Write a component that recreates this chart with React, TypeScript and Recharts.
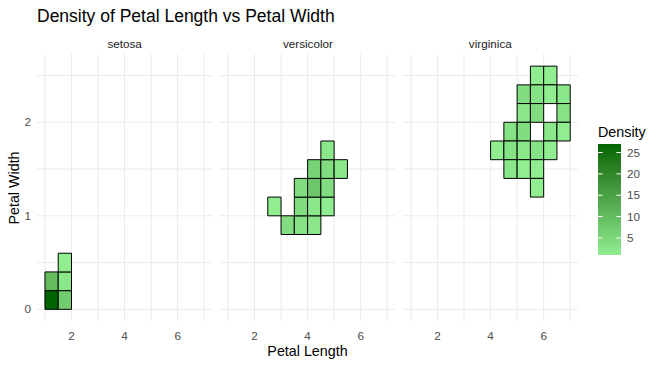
import { ComposedChart, XAxis, YAxis, CartesianGrid, ReferenceArea, ReferenceLine, Scatter } from 'recharts';

const SPECIES = ['setosa', 'versicolor', 'virginica'];
const BIN_W = 0.5;
const BIN_H = 0.2;

const SETOSA_X = [1.0, 1.0, 1.5, 1.5, 1.5];
const SETOSA_Y = [0.0, 0.2, 0.0, 0.2, 0.4];
const SETOSA_N = [27, 10, 7, 2, 1];

const VERSICOLOR_X = [2.5, 3.0, 3.5, 4.0, 3.5, 4.0, 4.5, 3.5, 4.0, 4.5, 4.0, 4.5, 5.0, 4.5];
const VERSICOLOR_Y = [1.0, 0.8, 0.8, 0.8, 1.0, 1.0, 1.0, 1.2, 1.2, 1.2, 1.4, 1.4, 1.4, 1.6];
const VERSICOLOR_N = [1, 4, 3, 2, 4, 2, 1, 4, 8, 4, 6, 4, 2, 2];

const VIRGINICA_X = [5.5, 6.0, 5.0, 5.5, 6.0, 6.5, 5.0, 5.5, 6.5, 4.5, 5.0, 6.0, 6.5, 4.0, 4.5, 5.0, 5.5, 6.0, 4.5, 5.0, 5.5, 5.5];
const VIRGINICA_Y = [2.4, 2.4, 2.2, 2.2, 2.2, 2.2, 2.0, 2.0, 2.0, 1.8, 1.8, 1.8, 1.8, 1.6, 1.6, 1.6, 1.6, 1.6, 1.4, 1.4, 1.4, 1.2];
const VIRGINICA_N = [1, 1, 4, 3, 1, 2, 2, 4, 3, 3, 4, 2, 1, 1, 3, 2, 3, 1, 2, 1, 1, 1];

const X_TICKS = [1, 2, 3, 4, 5, 6, 7];
const Y_TICKS = [0, 0.5, 1, 1.5, 2, 2.5];
const LEGEND_TICKS = [5, 10, 15, 20, 25];
const N_MIN = 1;
const N_MAX = 27;

const FONT = '"Liberation Sans", Arial, sans-serif';
const LOW = '#90EE90';
const HIGH = '#006400';

// lab interpolation, like ggplot's scale_fill_gradient
function toLab(hex: string) {
  const c = [1, 3, 5].map((i) => parseInt(hex.slice(i, i + 2), 16) / 255)
    .map((v) => (v <= 0.04045 ? v / 12.92 : Math.pow((v + 0.055) / 1.055, 2.4)));
  const X = (0.4124 * c[0] + 0.3576 * c[1] + 0.1805 * c[2]) / 0.95047;
  const Y = 0.2126 * c[0] + 0.7152 * c[1] + 0.0722 * c[2];
  const Z = (0.0193 * c[0] + 0.1192 * c[1] + 0.9505 * c[2]) / 1.08883;
  const f = (t: number) => (t > 0.008856 ? Math.cbrt(t) : 7.787 * t + 16 / 116);
  return [116 * f(Y) - 16, 500 * (f(X) - f(Y)), 200 * (f(Y) - f(Z))];
}

function fromLab(L: number, a: number, b: number) {
  const fy = (L + 16) / 116;
  const fx = fy + a / 500;
  const fz = fy - b / 200;
  const g = (t: number) => (t ** 3 > 0.008856 ? t ** 3 : (t - 16 / 116) / 7.787);
  const X = g(fx) * 0.95047, Y = g(fy), Z = g(fz) * 1.08883;
  const rgb = [
    3.2406 * X - 1.5372 * Y - 0.4986 * Z,
    -0.9689 * X + 1.8758 * Y + 0.0415 * Z,
    0.0557 * X - 0.204 * Y + 1.057 * Z,
  ].map((v) => (v <= 0.0031308 ? 12.92 * v : 1.055 * Math.pow(v, 1 / 2.4) - 0.055))
    .map((v) => Math.round(Math.min(1, Math.max(0, v)) * 255));
  return `rgb(${rgb[0]},${rgb[1]},${rgb[2]})`;
}

const LAB_LO = toLab(LOW);
const LAB_HI = toLab(HIGH);
function fillFor(n: number) {
  const t = (n - N_MIN) / (N_MAX - N_MIN);
  return fromLab(
    LAB_LO[0] + (LAB_HI[0] - LAB_LO[0]) * t,
    LAB_LO[1] + (LAB_HI[1] - LAB_LO[1]) * t,
    LAB_LO[2] + (LAB_HI[2] - LAB_LO[2]) * t,
  );
}

const PANELS = [
  { xs: SETOSA_X, ys: SETOSA_Y, ns: SETOSA_N },
  { xs: VERSICOLOR_X, ys: VERSICOLOR_Y, ns: VERSICOLOR_N },
  { xs: VIRGINICA_X, ys: VIRGINICA_Y, ns: VIRGINICA_N },
];

const PANEL_LEFT = [37, 220.3, 402.7];
const PANEL_W = 175.2;
const PANEL_H = 267.5;
const PANEL_TOP = 54;
const Y_AXIS_W = 37;

function Panel({ idx }: { idx: number }) {
  const p = PANELS[idx];
  const first = idx === 0;
  const centers = p.xs.map((x, i) => ({ x: x + BIN_W / 2, y: p.ys[i] + BIN_H / 2 }));
  const width = PANEL_W + (first ? Y_AXIS_W : 0);
  return (
    <div style={{ position: 'absolute', left: PANEL_LEFT[idx] - (first ? Y_AXIS_W : 0), top: PANEL_TOP }}>
      <ComposedChart width={width} height={PANEL_H + 26} margin={{ top: 0, right: 0, bottom: 0, left: 0 }}>
        <CartesianGrid stroke="#EBEBEB" strokeWidth={1} syncWithTicks />
        <XAxis type="number" dataKey="x" domain={[0.7, 7.3]} ticks={X_TICKS} allowDataOverflow
          tickFormatter={(v) => (v % 2 === 0 ? String(v) : '')}
          axisLine={false} tickLine={false} height={26} tickMargin={4}
          tick={{ fill: '#4D4D4D', fontSize: 11.7, fontFamily: FONT }} />
        <YAxis type="number" dataKey="y" domain={[-0.13, 2.73]} ticks={Y_TICKS} allowDataOverflow
          hide={!first} width={Y_AXIS_W}
          tickFormatter={(v) => (Number.isInteger(v) ? String(v) : '')}
          axisLine={false} tickLine={false} tickMargin={0}
          tick={{ fill: '#4D4D4D', fontSize: 11.7, fontFamily: FONT }} />
        <Scatter data={centers} fill="none" shape={() => <g />} isAnimationActive={false} />
        {p.xs.map((x, i) => (
          <ReferenceArea key={i} x1={x} x2={x + BIN_W} y1={p.ys[i]} y2={p.ys[i] + BIN_H}
            fill={fillFor(p.ns[i])} fillOpacity={1} stroke="#000" strokeWidth={1} strokeOpacity={1} />
        ))}
      </ComposedChart>
    </div>
  );
}

const BAR_ENDS = [{ x: 0.5, y: N_MIN }, { x: 0.5, y: N_MAX }];

function ColorBar() {
  const stops = Array.from({ length: 11 }, (_, i) => i / 10);
  return (
    <div style={{ position: 'absolute', left: 598, top: 144 }}>
      <ComposedChart width={53} height={111} margin={{ top: 0, right: 0, bottom: 0, left: 0 }}>
        <defs>
          <linearGradient id="densGrad" x1="0" y1="1" x2="0" y2="0">
            {stops.map((t) => (
              <stop key={t} offset={`${t * 100}%`} stopColor={fillFor(N_MIN + t * (N_MAX - N_MIN))} />
            ))}
          </linearGradient>
        </defs>
        <XAxis type="number" dataKey="x" domain={[0, 1]} hide allowDataOverflow />
        <YAxis type="number" dataKey="y" orientation="right" domain={[N_MIN, N_MAX]} ticks={LEGEND_TICKS}
          width={30} axisLine={false} tickLine={false} tickMargin={0} allowDataOverflow
          tick={{ fill: '#4D4D4D', fontSize: 11.7, fontFamily: FONT, textAnchor: 'start' }} />
        <Scatter data={BAR_ENDS} fill="none" shape={() => <g />} isAnimationActive={false} />
        <ReferenceArea x1={0} x2={1} y1={N_MIN} y2={N_MAX} fill="url(#densGrad)" fillOpacity={1} stroke="none" />
        {LEGEND_TICKS.map((v) => (
          <ReferenceLine key={`l${v}`} segment={[{ x: 0, y: v }, { x: 0.2, y: v }]} stroke="#fff" strokeWidth={1} />
        ))}
        {LEGEND_TICKS.map((v) => (
          <ReferenceLine key={`r${v}`} segment={[{ x: 0.8, y: v }, { x: 1, y: v }]} stroke="#fff" strokeWidth={1} />
        ))}
      </ComposedChart>
    </div>
  );
}

export default function App() {
  return (
    <div style={{ position: 'absolute', left: 0, top: 0, width: 660, height: 365, background: '#fff', fontFamily: FONT }}>
      <svg width={660} height={365} style={{ position: 'absolute', left: 0, top: 0 }}>
        <text x={37} y={22} fontSize={17.5} fill="#000" fontFamily={FONT}>Density of Petal Length vs Petal Width</text>
        {SPECIES.map((s, i) => (
          <text key={s} x={PANEL_LEFT[i] + PANEL_W / 2} y={48} textAnchor="middle" fontSize={11.7} fill="#1A1A1A" fontFamily={FONT}>{s}</text>
        ))}
        <text x={307.5} y={356} textAnchor="middle" fontSize={14.3} fill="#000" fontFamily={FONT}>Petal Length</text>
        <text transform="translate(19, 188) rotate(-90)" textAnchor="middle" fontSize={14.3} fill="#000" fontFamily={FONT}>Petal Width</text>
        <text x={598} y={136.5} fontSize={14.3} fill="#000" fontFamily={FONT}>Density</text>
      </svg>
      {SPECIES.map((s, i) => <Panel key={s} idx={i} />)}
      <ColorBar />
    </div>
  );
}
